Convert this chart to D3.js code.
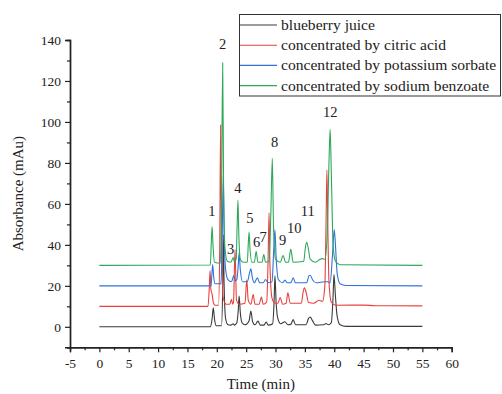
<!DOCTYPE html>
<html><head><meta charset="utf-8">
<script src="https://cdn.jsdelivr.net/npm/d3@7"></script>
<style>body{margin:0;background:#fff}svg{display:block;font-family:"Liberation Serif","Times New Roman",serif}</style>
</head><body><svg id="c" width="502" height="394"></svg>
<script>
const seriesNames = ["blueberry juice","concentrated by citric acid","concentrated by potassium sorbate","concentrated by sodium benzoate"];
const seriesColors = ["#3a3a3a","#e8413c","#2f72dc","#2ea85a"];

// [time (min), absorbance (mAu, as plotted with offsets)]
const blueberryJuice = [[0,0],[18.9,0],[19.2,4],[19.4,9.3],[19.6,4],[19.9,0.5],[20.8,0.5],[21.0,20],[21.1,45],[21.25,20],[21.5,4],[21.9,1],[22.4,0.8],[22.8,1.5],[23.0,0.8],[23.4,2],[23.65,8],[23.8,15],[24.0,7],[24.3,2],[24.8,1],[25.5,3],[25.8,7.7],[26.1,2.5],[26.5,1],[27.0,2.8],[27.4,0.8],[28.0,0.8],[28.4,2.3],[28.8,0.8],[29.5,1.5],[29.75,12],[29.9,25],[30.1,12],[30.4,4],[30.9,1.5],[31.6,2.5],[32.1,1],[32.6,1.2],[33.0,3.5],[33.4,1],[35.2,1],[35.6,4],[35.9,4.8],[36.3,3],[36.8,0.8],[38.2,1],[38.6,1.6],[39.0,1],[39.5,2],[39.8,15],[39.95,25.5],[40.2,15],[40.5,5],[41.0,1],[42,0.2],[55,0.2]];
const citricAcid = [[0,10],[18.5,10],[18.7,18],[18.85,27.5],[19.0,18],[19.2,16],[19.4,12],[19.7,10.5],[20.3,10.5],[20.5,40],[20.65,98.5],[20.8,40],[21.1,14],[21.6,11],[22.2,11],[22.5,13.4],[22.7,11],[22.85,12],[23.1,37.7],[23.35,13],[23.8,11],[24.8,11.5],[25.1,23],[25.35,13],[25.8,11],[26.2,15.8],[26.5,11],[27.2,11],[27.6,14.5],[27.9,11],[28.5,12],[28.75,35],[28.9,55.6],[29.05,30],[29.4,14],[29.9,11.5],[30.4,11.5],[30.8,14.3],[31.2,11],[31.8,11.5],[32.1,16.6],[32.5,11.5],[34.4,11.5],[34.7,17],[34.9,19],[35.2,17],[35.6,12],[36.5,11.5],[37.4,13],[38.0,12.5],[38.4,20],[38.6,50],[38.75,76.6],[38.9,50],[39.1,22],[39.5,12],[40.3,10.5],[45,10.6],[47,10.3],[55,10.2]];
const potassiumSorbate = [[0,20],[19.0,20],[19.15,25],[19.3,30.4],[19.45,25],[19.7,21],[20.7,21],[20.9,40],[21.1,73.7],[21.25,45],[21.5,28],[21.9,23],[22.5,22],[22.9,25],[23.1,22.5],[23.4,23],[23.65,30],[23.8,36.1],[24.0,28],[24.4,22],[25.2,22],[25.55,26],[25.8,28.3],[26.05,24],[26.4,21.5],[26.9,23.9],[27.3,21.5],[27.9,21.5],[28.3,23.1],[28.7,21.5],[29.4,22],[29.7,38],[29.9,47.4],[30.1,34],[30.5,23],[31.2,21.5],[31.6,22.8],[32.0,21.5],[32.6,21.5],[33.0,23.9],[33.4,21.5],[35.3,21.5],[35.7,25],[35.9,25.2],[36.3,23],[36.9,21.5],[38.4,22],[38.9,22],[39.3,21.5],[39.7,35],[40.0,47.5],[40.2,40],[40.5,26],[41.0,21],[42,20.2],[55,20]];
const sodiumBenzoate = [[0,30],[18.9,30.2],[19.05,40],[19.2,49],[19.35,40],[19.6,31.5],[20.6,31],[20.8,60],[21.0,128.9],[21.15,70],[21.4,38],[21.8,32],[22.4,31.5],[22.8,33.8],[23.0,31.5],[23.3,33],[23.45,48],[23.6,61.7],[23.75,45],[24.0,33],[24.5,31.5],[25.2,31.5],[25.35,40],[25.5,46.3],[25.65,38],[26.0,31.5],[26.4,31.5],[26.7,36.9],[27.0,31.5],[27.7,31.5],[28.0,35.3],[28.3,31.5],[28.9,32],[29.2,55],[29.45,82.3],[29.65,50],[30.0,33],[30.8,31.5],[31.3,34.8],[31.7,31.5],[32.2,31.5],[32.6,38],[33.0,31.5],[34.8,32],[35.1,39],[35.3,41.3],[35.6,38],[35.9,33],[36.8,31.5],[37.6,33],[38.0,33.3],[38.4,33],[38.8,45],[39.1,80],[39.3,96.4],[39.5,75],[39.8,40],[40.2,32],[41,30.3],[55,30]];

const xTickValues = [-5,0,5,10,15,20,25,30,35,40,45,50,55,60];
const yTickValues = [0,20,40,60,80,100,120,140];

// peak annotations: label, time, absorbance
const peakLabels = ["1","2","3","4","5","6","7","8","9","10","11","12"];
const peakLabelTime = [19.18,21.0,22.37,23.6,25.65,26.8,27.9,29.86,31.2,33.2,35.5,39.3];
const peakLabelValue = [54.3,135.5,35.3,65.4,50.9,39.2,41.6,87.8,40.1,46,54.3,102.4];

const allSeries = [blueberryJuice, citricAcid, potassiumSorbate, sodiumBenzoate];

const svg = d3.select("#c");
const x = d3.scaleLinear([-5,60],[70,451.7]);
const y = d3.scaleLinear([-10,140],[347.3,40]);

// axes
const gx = svg.append("g").attr("transform",`translate(0,${y(-10)})`)
  .call(d3.axisBottom(x).tickValues(xTickValues).tickFormat(d=>String(d)).tickSizeOuter(0).tickSize(5));
const gxm = svg.append("g").attr("transform",`translate(0,${y(-10)})`)
  .call(d3.axisBottom(x).tickValues(d3.range(-2.5,60,5)).tickFormat("").tickSizeOuter(0).tickSize(3));
const gy = svg.append("g").attr("transform",`translate(${x(-5)},0)`)
  .call(d3.axisLeft(y).tickValues(yTickValues).tickFormat(d=>String(d)).tickSizeOuter(0).tickSize(5));
const gym = svg.append("g").attr("transform",`translate(${x(-5)},0)`)
  .call(d3.axisLeft(y).tickValues(d3.range(-10,141,20)).tickFormat("").tickSizeOuter(0).tickSize(3));
[gx,gxm,gy,gym].forEach(g=>{
  g.selectAll("path.domain").attr("stroke","#222").attr("stroke-width",1.4);
  g.selectAll("line").attr("stroke","#222").attr("stroke-width",1.2);
  g.selectAll("text").attr("font-family","Liberation Serif").attr("font-size",13.5).attr("fill","#222");
});
gx.selectAll("text").attr("dy","0.95em");
gy.selectAll("text").attr("dx","-1");

// titles
svg.append("text").attr("x",(x(-5)+x(60))/2).attr("y",389).attr("text-anchor","middle")
  .attr("font-size",15).attr("fill","#222").text("Time (min)");
svg.append("text").attr("transform",`translate(23,${(y(-10)+y(140))/2}) rotate(-90)`).attr("text-anchor","middle")
  .attr("font-size",15).attr("fill","#222").text("Absorbance (mAu)");

// lines
const line = d3.line().x(d=>x(d[0])).y(d=>y(d[1])).curve(d3.curveMonotoneX);
allSeries.forEach((s,i)=>{
  svg.append("path").datum(s).attr("d",line).attr("fill","none")
    .attr("stroke",seriesColors[i]).attr("stroke-width",1.1).attr("stroke-linejoin","round");
});

// peak labels
svg.append("g").selectAll("text").data(peakLabels).join("text")
  .attr("x",(d,i)=>x(peakLabelTime[i])).attr("y",(d,i)=>y(peakLabelValue[i]))
  .attr("text-anchor","middle").attr("font-size",14.5).attr("fill","#222").text(d=>d);

// legend
const lg = svg.append("g");
lg.append("rect").attr("x",239.5).attr("y",14.5).attr("width",261).attr("height",81.5)
  .attr("fill","#fff").attr("stroke","#333").attr("stroke-width",1);
seriesNames.forEach((n,i)=>{
  const cy = 25 + i*20.2;
  lg.append("line").attr("x1",240).attr("x2",277).attr("y1",cy).attr("y2",cy)
    .attr("stroke",seriesColors[i]).attr("stroke-width",1.1);
  lg.append("text").attr("x",281).attr("y",cy+5).attr("font-size",15.6).attr("fill","#222").text(n);
});
</script></body></html>
